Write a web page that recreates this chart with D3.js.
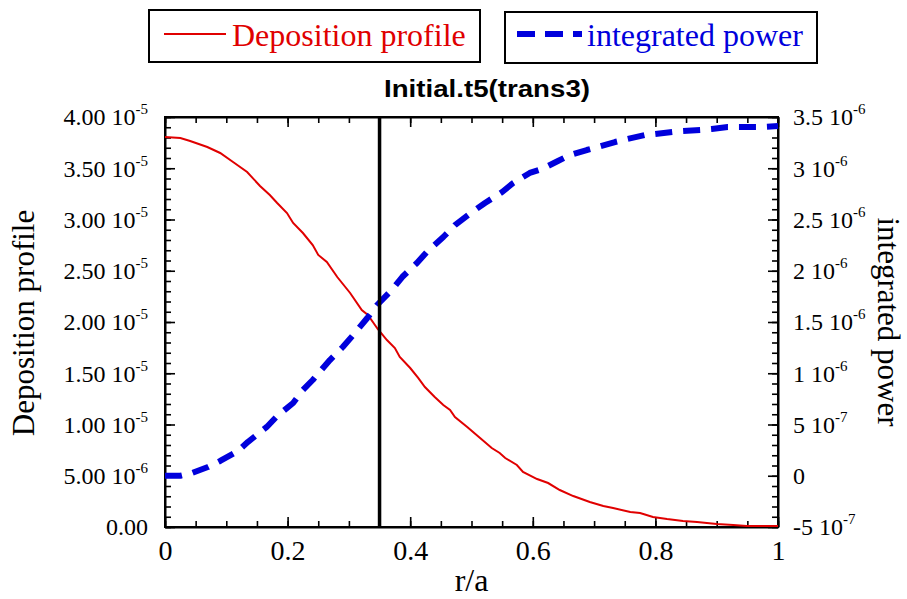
<!DOCTYPE html>
<html><head><meta charset="utf-8">
<script src="https://cdn.jsdelivr.net/npm/d3@7"></script>
<style>body{margin:0;background:#fff}svg{display:block}</style>
</head><body>
<svg id="chart" width="907" height="599"></svg>
<script>
// ---- data ----
const depX = [0.000,0.025,0.041,0.069,0.090,0.111,0.134,0.155,0.171,0.183,0.199,0.209,0.225,0.241,0.250,0.264,0.281,0.302,0.321,0.331,0.347,0.362,0.375,0.383,0.400,0.413,0.424,0.440,0.454,0.465,0.473,0.493,0.514,0.533,0.546,0.555,0.574,0.584,0.607,0.625,0.644,0.666,0.693,0.715,0.731,0.759,0.775,0.796,0.819,0.845,0.868,0.900,0.927,0.949,1.000];
const depY = [3.805,3.795,3.766,3.707,3.649,3.561,3.463,3.327,3.239,3.161,3.063,2.966,2.868,2.751,2.654,2.585,2.439,2.283,2.117,2.068,1.932,1.824,1.746,1.659,1.551,1.454,1.366,1.268,1.190,1.141,1.073,0.976,0.868,0.771,0.722,0.673,0.605,0.537,0.468,0.429,0.361,0.302,0.244,0.205,0.185,0.146,0.137,0.098,0.078,0.059,0.049,0.029,0.020,0.010,0.010]; // x 1e-5
const powX = [0.000,0.025,0.044,0.070,0.090,0.119,0.135,0.166,0.183,0.209,0.225,0.241,0.269,0.290,0.307,0.330,0.346,0.370,0.387,0.411,0.427,0.454,0.473,0.501,0.522,0.550,0.568,0.595,0.615,0.641,0.661,0.688,0.706,0.734,0.754,0.783,0.799,0.829,0.845,0.873,0.892,0.918,0.941,0.971,1.000];
const powY = [0.000,0.000,0.027,0.085,0.144,0.241,0.329,0.476,0.583,0.710,0.837,0.934,1.129,1.256,1.373,1.539,1.666,1.812,1.939,2.076,2.183,2.329,2.446,2.573,2.661,2.768,2.856,2.954,2.993,3.071,3.129,3.178,3.207,3.256,3.285,3.324,3.334,3.354,3.363,3.373,3.383,3.402,3.402,3.402,3.412]; // x 1e-6
const markerX = 0.35;

const xTickValues = [0,0.2,0.4,0.6,0.8,1];
const xTickLabels = ["0","0.2","0.4","0.6","0.8","1"];
const leftTickValues = [0,0.5,1,1.5,2,2.5,3,3.5,4];
const leftTickMant = ["0.00","5.00","1.00","1.50","2.00","2.50","3.00","3.50","4.00"];
const leftTickExp = [null,"-6","-5","-5","-5","-5","-5","-5","-5"];
const rightTickValues = [-0.5,0,0.5,1,1.5,2,2.5,3,3.5];
const rightTickMant = ["-5","0","5","1","1.5","2","2.5","3","3.5"];
const rightTickExp = ["-7",null,"-7","-6","-6","-6","-6","-6","-6"];

const titleText = "Initial.t5(trans3)";
const depName = "Deposition profile";
const powName = "integrated power";
const xTitle = "r/a";

// ---- layout ----
const L = 165, R = 778, T = 117, B = 527;
const RED = "#e00000", BLUE = "#0000dc";
const serif = "'Liberation Serif','Times New Roman',serif";
const sans = "'Liberation Sans',Arial,sans-serif";

const svg = d3.select("#chart");
const x = d3.scaleLinear().domain([0,1]).range([L,R]);
const yL = d3.scaleLinear().domain([0,4]).range([B,T]);
const yR = d3.scaleLinear().domain([-0.5,3.5]).range([B,T]);

// minor ticks
function minorAxis(axis, pos, vals) {
  const g = svg.append("g").attr("transform", pos)
    .call(axis.tickValues(vals).tickSizeInner(-6).tickSizeOuter(0).tickFormat(""));
  g.select(".domain").remove();
  g.selectAll("line").attr("stroke","#000").attr("stroke-width",1.6);
}
const xMinor = d3.range(0,21).map(i=>i*0.05);
const lMinor = d3.range(0,41).map(i=>i*0.1);
const rMinor = d3.range(0,41).map(i=>-0.5+i*0.1);
minorAxis(d3.axisBottom(x), `translate(0,${B})`, xMinor);
minorAxis(d3.axisTop(x), `translate(0,${T})`, xMinor);
minorAxis(d3.axisLeft(yL), `translate(${L},0)`, lMinor);
minorAxis(d3.axisRight(yR), `translate(${R},0)`, rMinor);

// major axes
const gx = svg.append("g").attr("transform",`translate(0,${B})`)
  .call(d3.axisBottom(x).tickValues(xTickValues).tickSizeInner(-10).tickSizeOuter(0).tickPadding(13)
    .tickFormat((d,i)=>xTickLabels[i]));
gx.selectAll("text").attr("font-family",serif).attr("font-size",28).attr("fill","#000");

const gt = svg.append("g").attr("transform",`translate(0,${T})`)
  .call(d3.axisTop(x).tickValues(xTickValues).tickSizeInner(-10).tickSizeOuter(0).tickFormat(""));

const gl = svg.append("g").attr("transform",`translate(${L},0)`)
  .call(d3.axisLeft(yL).tickValues(leftTickValues).tickSizeInner(-10).tickSizeOuter(0).tickPadding(17).tickFormat(""));
const gr = svg.append("g").attr("transform",`translate(${R},0)`)
  .call(d3.axisRight(yR).tickValues(rightTickValues).tickSizeInner(-10).tickSizeOuter(0).tickPadding(15).tickFormat(""));

function sciLabels(g, mant, exp) {
  g.selectAll(".tick text").each(function(d,i){
    const t = d3.select(this).text(null).attr("font-family",serif).attr("font-size",24).attr("fill","#000").attr("dy","0.33em");
    t.append("tspan").text(mant[i] + (exp[i] ? " 10" : ""));
    if (exp[i]) t.append("tspan").attr("font-size",15).attr("dy",-11).text(exp[i]);
  });
}
sciLabels(gl, leftTickMant, leftTickExp);
sciLabels(gr, rightTickMant, rightTickExp);

[gx,gt,gl,gr].forEach(g=>{
  g.selectAll(".tick line").attr("stroke","#000").attr("stroke-width",1.6);
  g.select(".domain").attr("stroke","#000").attr("stroke-width",2);
});

// frame
svg.append("rect").attr("x",L).attr("y",T).attr("width",R-L).attr("height",B-T)
  .attr("fill","none").attr("stroke","#000").attr("stroke-width",2);

// curves
const depLine = d3.line().x((d,i)=>x(depX[i])).y(d=>yL(d));
svg.append("path").datum(depY).attr("d",depLine)
  .attr("fill","none").attr("stroke",RED).attr("stroke-width",2);

const powLine = d3.line().x((d,i)=>x(powX[i])).y(d=>yR(d));
svg.append("path").datum(powY).attr("d",powLine)
  .attr("fill","none").attr("stroke",BLUE).attr("stroke-width",6)
  .attr("stroke-dasharray","17,11").attr("stroke-linejoin","round");

// vertical marker
svg.append("line").attr("x1",x(markerX)).attr("x2",x(markerX)).attr("y1",T).attr("y2",B)
  .attr("stroke","#000").attr("stroke-width",3.5);

// titles
svg.append("text").attr("x",487).attr("y",97).attr("text-anchor","middle")
  .attr("font-family",sans).attr("font-weight","bold").attr("font-size",24)
  .attr("textLength",206).attr("lengthAdjust","spacingAndGlyphs").text(titleText);

svg.append("text").attr("transform","translate(34,323) rotate(-90)").attr("text-anchor","middle")
  .attr("font-family",serif).attr("font-size",31).attr("fill","#000").text(depName);
svg.append("text").attr("transform","translate(878,322) rotate(90)").attr("text-anchor","middle")
  .attr("font-family",serif).attr("font-size",31).attr("fill","#000").text(powName);
svg.append("text").attr("x",(L+R)/2).attr("y",591).attr("text-anchor","middle")
  .attr("font-family",serif).attr("font-size",32).attr("fill","#000").text(xTitle);

// legends
const lg1 = svg.append("g");
lg1.append("rect").attr("x",149).attr("y",10).attr("width",331).attr("height",52)
  .attr("fill","#fff").attr("stroke","#000").attr("stroke-width",2);
lg1.append("line").attr("x1",164).attr("x2",226).attr("y1",34).attr("y2",34)
  .attr("stroke",RED).attr("stroke-width",2);
lg1.append("text").attr("x",232).attr("y",46).attr("font-family",serif).attr("font-size",32)
  .attr("fill",RED).text(depName);

const lg2 = svg.append("g");
lg2.append("rect").attr("x",505).attr("y",12).attr("width",312).attr("height",51)
  .attr("fill","#fff").attr("stroke","#000").attr("stroke-width",2);
lg2.append("line").attr("x1",517).attr("x2",582).attr("y1",34).attr("y2",34)
  .attr("stroke",BLUE).attr("stroke-width",6).attr("stroke-dasharray","18,10");
lg2.append("text").attr("x",587).attr("y",46).attr("font-family",serif).attr("font-size",32)
  .attr("fill",BLUE).text(powName);
</script>
</body></html>
